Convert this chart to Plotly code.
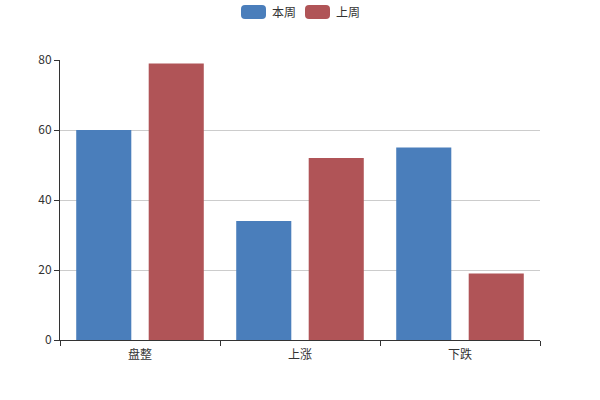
import plotly.graph_objects as go

categories = ["盘整", "上涨", "下跌"]
this_week = [60, 34, 55]
last_week = [79, 52, 19]
series_names = ["本周", "上周"]
colors = ["#4a7ebb", "#b05457"]

fig = go.Figure()
fig.add_trace(go.Bar(x=categories, y=this_week, name=series_names[0], marker_color=colors[0], marker_line_width=0))
fig.add_trace(go.Bar(x=categories, y=last_week, name=series_names[1], marker_color=colors[1], marker_line_width=0))

font = dict(family="Noto Sans CJK SC, sans-serif", size=12, color="#333")

L, T, R, B = 60, 60, 540, 340
px = lambda x: (x - L) / (R - L)
py = lambda y: (B - y) / (B - T)

shapes = []
annotations = []
legend_x = [241, 305]
for i, name in enumerate(series_names):
    x0 = legend_x[i]
    shapes.append(dict(type="path", xref="paper", yref="paper",
                       path=f"M{px(x0+4)},{py(5)} L{px(x0+21)},{py(5)} Q{px(x0+25)},{py(5)} {px(x0+25)},{py(9)} "
                            f"L{px(x0+25)},{py(15)} Q{px(x0+25)},{py(19)} {px(x0+21)},{py(19)} "
                            f"L{px(x0+4)},{py(19)} Q{px(x0)},{py(19)} {px(x0)},{py(15)} "
                            f"L{px(x0)},{py(9)} Q{px(x0)},{py(5)} {px(x0+4)},{py(5)} Z",
                       fillcolor=colors[i], line_width=0))
    annotations.append(dict(x=px(x0 + 29), y=py(12), xref="paper", yref="paper", text=name,
                            showarrow=False, xanchor="left", yanchor="middle", font=font))

fig.update_layout(
    width=600, height=400,
    margin=dict(l=L, r=600 - R, t=T, b=400 - B, autoexpand=False),
    paper_bgcolor="white", plot_bgcolor="white",
    barmode="group", bargap=0.094, bargroupgap=0.24,
    showlegend=False,
    font=font,
    shapes=shapes, annotations=annotations,
    xaxis=dict(showline=True, linecolor="#333", linewidth=1, ticks="outside", ticklen=5,
               tickcolor="#333", tickson="boundaries", showgrid=False, tickfont=font,
               ticklabelstandoff=4),
    yaxis=dict(range=[0, 80], dtick=20, showline=True, linecolor="#333", linewidth=1,
               ticks="outside", ticklen=5, tickcolor="#333", showgrid=True, gridcolor="#ccc",
               zeroline=False, tickfont=font),
)

fig.write_html("out.html", config={"displayModeBar": False},
               post_script="document.body.style.margin='0';")
